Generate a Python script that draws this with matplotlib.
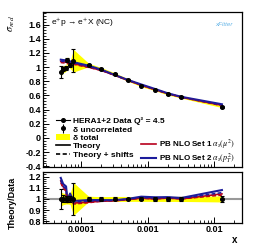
import matplotlib
matplotlib.use('Agg')
import matplotlib.pyplot as plt
import numpy as np
from matplotlib.ticker import FixedLocator, MultipleLocator, FuncFormatter, NullFormatter
from matplotlib.lines import Line2D
from matplotlib.patches import Patch

plt.rcParams['font.family'] = ['Liberation Sans', 'DejaVu Sans']
plt.rcParams['mathtext.fontset'] = 'stix'

# HERA1+2 e+p NC, Q2 = 4.5
x_vals = [4.97e-5, 5.4e-5, 5.97e-5, 6.25e-5, 6.86e-5, 7.7e-5, 1.3e-4, 2e-4,
          3.2e-4, 5e-4, 8e-4, 1.3e-3, 2e-3, 3.2e-3, 1.3e-2]
sigma_red = [0.93, 0.97, 0.985, 1.10, 1.03, 1.09, 1.03, 0.975,
             0.90, 0.82, 0.74, 0.68, 0.62, 0.575, 0.44]
err_uncor = [0.08, 0.03, 0.03, 0.03, 0.03, 0.16, 0.02, 0.015,
             0.012, 0.01, 0.01, 0.01, 0.01, 0.01, 0.012]
err_total = [0.06, 0.05, 0.045, 0.05, 0.05, 0.16, 0.025, 0.02,
             0.02, 0.018, 0.016, 0.015, 0.014, 0.013, 0.012]

# theory predictions
th_set1 = [1.08, 1.075, 1.07, 1.065, 1.06, 1.05, 1.0, 0.955,
           0.885, 0.815, 0.745, 0.68, 0.625, 0.575, 0.46]
th_set2 = [1.105, 1.10, 1.095, 1.09, 1.08, 1.07, 1.02, 0.965,
           0.89, 0.82, 0.755, 0.69, 0.63, 0.58, 0.475]
th_set1_shift = [1.065, 1.06, 1.055, 1.05, 1.045, 1.04, 0.995, 0.955,
                 0.885, 0.815, 0.745, 0.68, 0.625, 0.575, 0.455]
th_set2_shift = [1.085, 1.08, 1.075, 1.07, 1.065, 1.06, 1.01, 0.96,
                 0.888, 0.818, 0.75, 0.685, 0.628, 0.578, 0.465]

red = '#b8001c'
blue = '#1c1c9c'
yellow = '#ffff00'

x = np.array(x_vals)
d = np.array(sigma_red)
eu = np.array(err_uncor)
et = np.array(err_total)

fig = plt.figure(figsize=(2.55, 2.48), dpi=100)
ax1 = fig.add_axes([0.169, 0.327, 0.78, 0.625])
ax2 = fig.add_axes([0.169, 0.101, 0.78, 0.205], sharex=ax1)

# --- upper panel
ax1.fill_between(x, d - et, d + et, color=yellow, lw=0)
ax1.plot(x, th_set1, color=red, lw=1.2)
ax1.plot(x, th_set2, color=blue, lw=1.5)
ax1.plot(x, th_set1_shift, color=red, lw=1.1, ls=(0, (2.5, 1.5)))
ax1.plot(x, th_set2_shift, color=blue, lw=1.1, ls=(0, (2.5, 1.5)))
ax1.errorbar(x, d, yerr=eu, fmt='o', color='black', ms=2.6, elinewidth=0.8, capsize=1.2, capthick=0.8)

ax1.set_xscale('log')
ax1.set_xlim(2.7e-5, 0.026)
ax1.set_ylim(-0.41, 1.78)
ax1.yaxis.set_major_locator(MultipleLocator(0.2))
ax1.yaxis.set_minor_locator(MultipleLocator(0.04))

# --- ratio panel
ax2.axhline(1, color='#999999', lw=1.5, zorder=1)
ax2.fill_between(x, 1 - et / d, 1 + et / d, color=yellow, lw=0, zorder=2)
ax2.plot(x, np.array(th_set1) / d, color=red, lw=1.2, zorder=3)
ax2.plot(x, np.array(th_set2) / d, color=blue, lw=1.5, zorder=3)
ax2.plot(x, np.array(th_set1_shift) / d, color=red, lw=1.1, ls=(0, (2.5, 1.5)), zorder=3)
ax2.plot(x, np.array(th_set2_shift) / d, color=blue, lw=1.1, ls=(0, (2.5, 1.5)), zorder=3)
ax2.errorbar(x, np.ones_like(d), yerr=eu / d, fmt='o', color='black', ms=2.6,
             elinewidth=0.8, capsize=1.2, capthick=0.8, zorder=4)
ax2.set_ylim(0.785, 1.24)
ax2.yaxis.set_major_locator(MultipleLocator(0.1))
ax2.yaxis.set_minor_locator(MultipleLocator(0.02))

fmt = FuncFormatter(lambda v, p: '%g' % round(v, 3))
for ax in (ax1, ax2):
    ax.yaxis.set_major_formatter(fmt)
    ax.tick_params(which='both', direction='in', top=False, right=False, labelsize=6.5, pad=1.5)
    ax.tick_params(which='major', length=4, width=0.7)
    ax.tick_params(which='minor', length=2, width=0.6)
    for s in ax.spines.values():
        s.set_linewidth(0.9)
    for lab in ax.get_yticklabels() + ax.get_xticklabels():
        lab.set_fontweight('bold')

ax2.xaxis.set_major_locator(FixedLocator([1e-4, 1e-3, 1e-2]))
ax2.xaxis.set_major_formatter(FuncFormatter(lambda v, p: {1e-4: '0.0001', 1e-3: '0.001', 1e-2: '0.01'}.get(v, '')))
ax2.xaxis.set_minor_formatter(NullFormatter())
ax1.tick_params(axis='x', labelbottom=False)
for lab in ax2.get_xticklabels():
    lab.set_fontweight('bold')

# legends
h_data = Line2D([], [], color='black', marker='o', ms=2.6, lw=0.8)
h_unc = ax1.errorbar([], [], yerr=[], fmt='o', color='black', ms=2.6, elinewidth=0.8)
h_tot = Patch(facecolor=yellow, edgecolor='none')
h_th = Line2D([], [], color='black', lw=1.2)
h_ths = Line2D([], [], color='black', lw=1.2, ls=(0, (2.5, 1.5)))
leg1 = ax1.legend([h_data, h_unc, h_tot, h_th, h_ths],
                  ['HERA1+2 Data Q² = 4.5', 'δ uncorrelated', 'δ total',
                   'Theory', 'Theory + shifts'],
                  loc='upper left', bbox_to_anchor=(0.204, 0.545), bbox_transform=fig.transFigure,
                  frameon=False, borderpad=0, labelspacing=0.04, handlelength=1.7,
                  handleheight=0.8, handletextpad=0.3, prop={'size': 6, 'weight': 'bold'})
ax1.add_artist(leg1)
h_s1 = Line2D([], [], color=red, lw=1.2)
h_s2 = Line2D([], [], color=blue, lw=1.5)
ax1.legend([h_s1, h_s2],
           [r'PB NLO Set 1 $\alpha_s(\mu^2)$', r'PB NLO Set 2 $\alpha_s(p_T^2)$'],
           loc='upper left', bbox_to_anchor=(0.537, 0.462), bbox_transform=fig.transFigure,
           frameon=False, borderpad=0, labelspacing=0.0, handlelength=1.9,
           handleheight=0.6, handletextpad=0.3, prop={'size': 5.8, 'weight': 'bold'})

fig.text(0.199, 0.911, r'e$^{+}$p → e$^{+}$X (NC)', fontsize=6, va='center')
fig.text(0.88, 0.9, 'xFitter', fontsize=4.5, style='italic', color='#69b7e8', ha='center', va='center')
fig.text(0.047, 0.94, r'$\sigma_{red}$', rotation=90, fontsize=7.5, ha='center', va='top')
fig.text(0.047, 0.18, 'Theory/Data', rotation=90, fontsize=6.5, fontweight='bold', ha='center', va='center')
fig.text(0.922, 0.032, 'x', fontsize=7, fontweight='bold', ha='center', va='center')

fig.savefig('out.png', dpi=100)
